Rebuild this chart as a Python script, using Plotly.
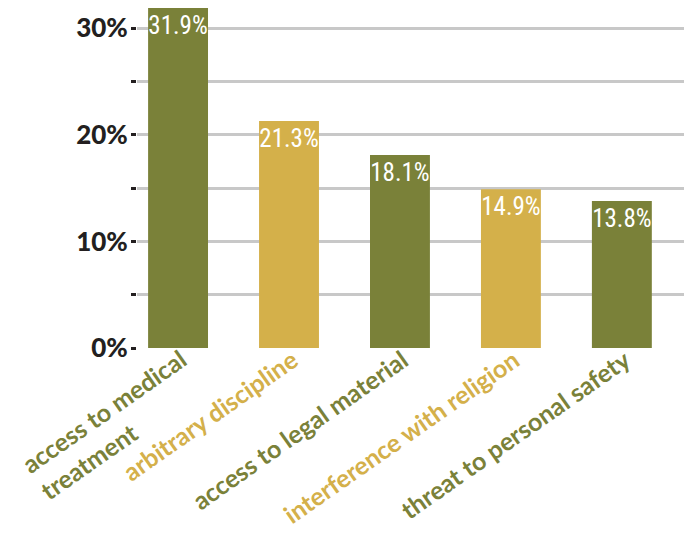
import math
import plotly.graph_objects as go

categories = [
    "access to medical<br>treatment",
    "arbitrary discipline",
    "access to legal material",
    "interference with religion",
    "threat to personal safety",
]
values = [31.9, 21.3, 18.1, 14.9, 13.8]
colors = ["#7a8139", "#d4b04a", "#7a8139", "#d4b04a", "#7a8139"]
y_ticks = [0, 5, 10, 15, 20, 25, 30]
y_ticktext = ["0%", "", "10%", "", "20%", "", "30%"]

x_pos = list(range(len(categories)))
label_size = 25
angle = 35

fig = go.Figure(
    go.Bar(
        x=x_pos,
        y=values,
        marker=dict(color=colors, line=dict(width=0)),
        width=0.54,
        text=[f"{v:.1f}%" for v in values],
        textposition="inside",
        insidetextanchor="end",
        textangle=0,
        constraintext="none",
        textfont=dict(
            family="Roboto Condensed, DejaVu Sans Condensed, Liberation Sans Narrow, Roboto",
            size=25,
            color="white",
        ),
    )
)

# category labels, left aligned and rotated like the original
for i, (cat, col) in enumerate(zip(categories, colors)):
    nlines = cat.count("<br>") + 1
    box_h = nlines * label_size * 1.3
    fig.add_annotation(
        x=i,
        y=0,
        xref="x",
        yref="y",
        text=cat,
        showarrow=False,
        textangle=-angle,
        align="left",
        xanchor="right",
        yanchor="top",
        xshift=-2 + box_h * math.sin(math.radians(angle)),
        yshift=7,
        font=dict(size=label_size, color=col, family="Lato, sans-serif", weight="bold"),
    )

fig.update_layout(
    width=684,
    height=533,
    margin=dict(l=137, r=0, t=7, b=185),
    plot_bgcolor="white",
    paper_bgcolor="white",
    showlegend=False,
    font=dict(family="Lato, sans-serif"),
)
fig.update_xaxes(
    range=[-0.37, 4.56],
    showticklabels=False,
    showgrid=False,
    zeroline=False,
    showline=False,
    ticks="",
    automargin=False,
)
fig.update_yaxes(
    range=[0, 32],
    tickvals=y_ticks,
    ticktext=y_ticktext,
    tickfont=dict(size=26, color="#231f20", family="Lato, sans-serif", weight=900),
    ticks="outside",
    ticklen=5,
    tickwidth=3,
    tickcolor="#231f20",
    ticklabelstandoff=-2,
    showgrid=True,
    gridcolor="#c8c8c8",
    gridwidth=2.5,
    zeroline=False,
    showline=False,
    automargin=False,
)

fig.write_html(
    "out.html",
    config={"displayModeBar": False},
    post_script="document.body.style.margin='0px';",
)
